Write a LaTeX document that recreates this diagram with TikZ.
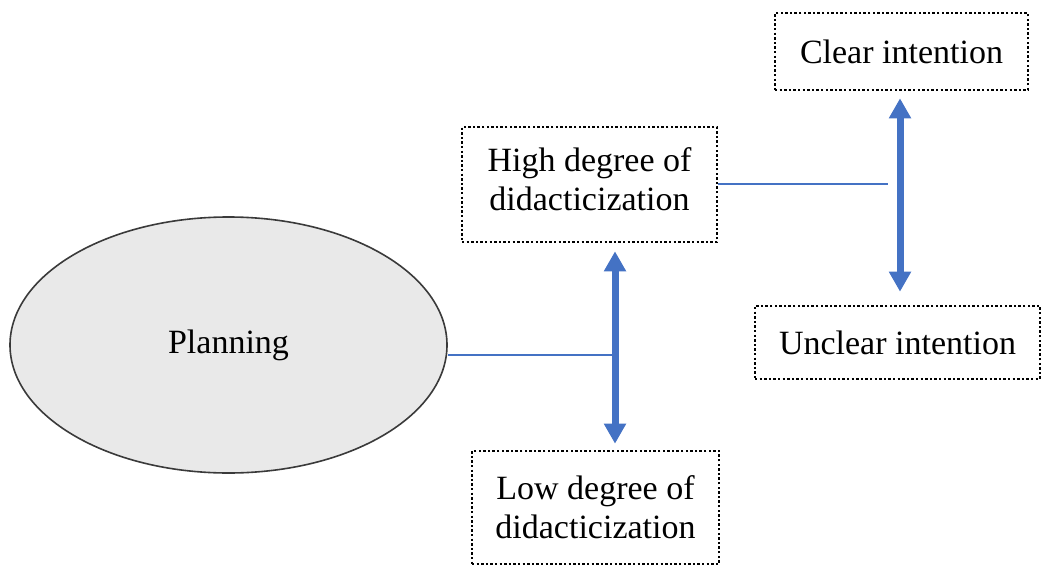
\documentclass[tikz,border=0pt]{standalone}
\usepackage{fontspec}
\setmainfont{Liberation Serif}
\usetikzlibrary{arrows.meta,shapes.geometric}
\definecolor{linkblue}{HTML}{4472C4}
\definecolor{ovalfill}{HTML}{E9E9E9}
\definecolor{ovaledge}{HTML}{3A3A3A}
\begin{document}
\begin{tikzpicture}[x=1pt,y=-1pt,
  every node/.style={font=\fontsize{34}{39}\selectfont, align=center, inner sep=0pt},
  dotbox/.style={draw=black, line width=2.6pt, dash pattern=on 2.4pt off 2.2pt},
  oval/.style={ellipse, draw=ovaledge, fill=ovalfill, line width=1.6pt},
  link/.style={draw=linkblue, line width=2pt},
  twoway/.style={draw=linkblue, line width=7pt,
    {Triangle[width=21pt,length=20pt]}-{Triangle[width=21pt,length=20pt]}}]
  \useasboundingbox (0,0) rectangle (1043,567);

  % nodes
  \node[oval, minimum width=437pt, minimum height=256pt] (plan) at (228.5,345) {Planning};
  \node[dotbox, minimum width=255pt, minimum height=115pt] (high) at (589.5,184.5) {High degree of\\didacticization\rule[-11pt]{0pt}{0pt}};
  \node[dotbox, minimum width=247pt, minimum height=113pt] (low) at (595.5,507.5) {Low degree of\\didacticization};
  \node[dotbox, minimum width=253pt, minimum height=77pt] (clear) at (901.5,51.5) {Clear intention};
  \node[dotbox, minimum width=285pt, minimum height=73pt] (unclear) at (897.5,342.5) {Unclear intention};

  % axis positions of the two double arrows
  \coordinate (axisA) at (615,0);
  \coordinate (axisB) at (900,0);
  \coordinate (stubA) at (612,355);
  \coordinate (stubB) at (888,184);

  % connectors
  \draw[link] (plan.east |- stubA) -- (stubA);
  \draw[twoway] ([yshift=-8pt]axisA |- high.south) -- ([yshift=6pt]axisA |- low.north);
  \draw[link] (high.east |- stubB) -- (stubB);
  \draw[twoway] ([yshift=-7pt]axisB |- clear.south) -- ([yshift=13pt]axisB |- unclear.north);
\end{tikzpicture}
\end{document}
